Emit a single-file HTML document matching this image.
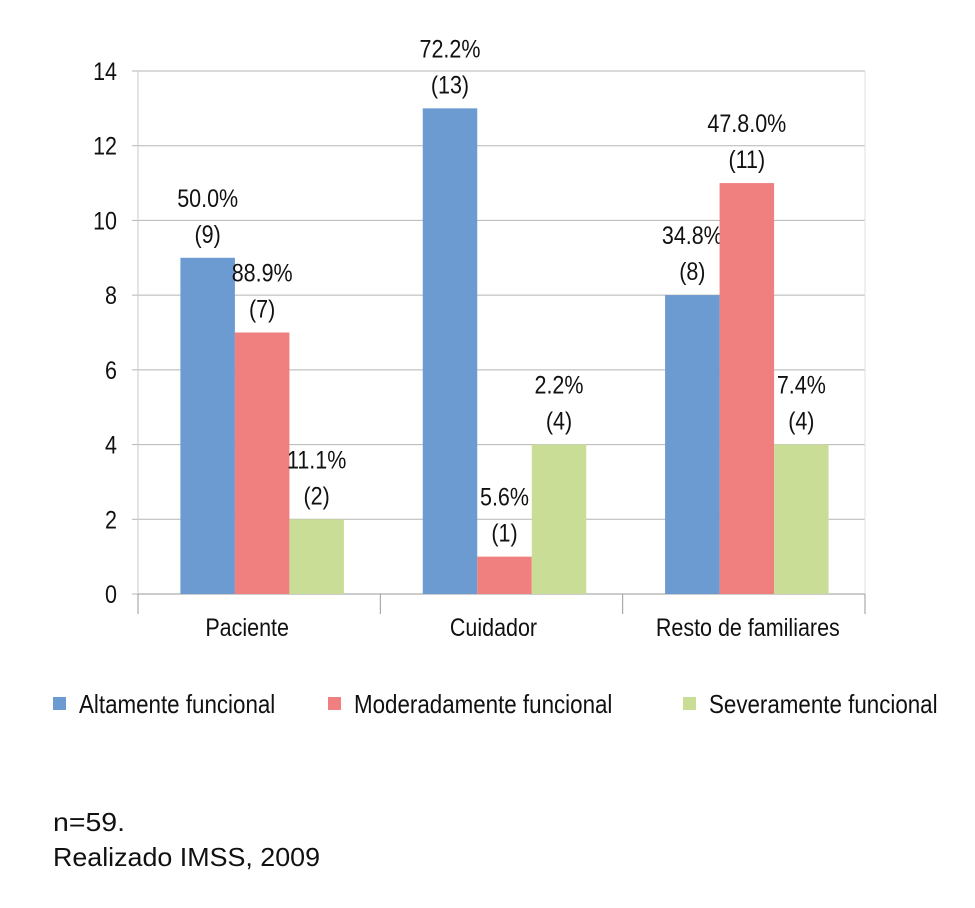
<!DOCTYPE html>
<html><head><meta charset="utf-8"><style>
body{margin:0;background:#fff;}
svg{display:block;font-family:"Liberation Sans Narrow","Liberation Sans",sans-serif;}
</style></head><body>
<svg id="c" width="975" height="908"></svg>
<script>
const categories=["Paciente","Cuidador","Resto de familiares"];
const seriesNames=["Altamente funcional","Moderadamente funcional","Severamente funcional"];
const altamente=[9,13,8];
const moderadamente=[7,1,11];
const severamente=[2,4,4];
const pctAlt=["50.0%","72.2%","34.8%"];
const pctMod=["88.9%","5.6%","47.8.0%"];
const pctSev=["11.1%","2.2%","7.4%"];
const yTicks=[0,2,4,6,8,10,12,14];
const colors=["#6b9bd0","#f07f7f","#c9dd96"];
const svg=document.getElementById('c');const NS="http://www.w3.org/2000/svg";
const K=0.86;
function mk(t,a,p){const e=document.createElementNS(NS,t);for(const k in a)e.setAttribute(k,a[k]);(p||svg).appendChild(e);return e;}
function tx(x,yy,s,anchor,str){const e=mk('text',{x:x,y:yy,'text-anchor':anchor,'font-size':s,fill:'#111',transform:`translate(${x},0) scale(${K},1) translate(${-x},0)`});e.textContent=str;return e;}
const x0=138,x1=865,yb=594,yt=71,ymax=14;
const y=v=>yb-(yb-yt)*v/ymax;
const gw=(x1-x0)/categories.length, bw=54.5;
const bx=(i,s)=>x0+gw*i+gw/2-bw*1.5+s*bw+3;
yTicks.forEach(t=>{
 const g=mk('line',{x1:x0,x2:x1,y1:y(t),y2:y(t),stroke:t===0?'#999':'#b5b5b5','stroke-width':1});
 
 mk('line',{x1:x0-6,x2:x0,y1:y(t),y2:y(t),stroke:'#b5b5b5'});
 const e=tx(117,y(t)+9,25,'end',t);
 
});
mk('line',{x1:x0,x2:x0,y1:yt,y2:yb,stroke:'#c8c8c8'});
mk('line',{x1:x1,x2:x1,y1:yt,y2:yb,stroke:'#e0e0e0'});
for(let i=0;i<=categories.length;i++)mk('line',{x1:x0+gw*i,x2:x0+gw*i,y1:yb,y2:yb+20,stroke:'#999'});
const data=[altamente,moderadamente,severamente],pcts=[pctAlt,pctMod,pctSev];
categories.forEach((c,i)=>{
 data.forEach((d,s)=>{
  const r=mk('rect',{x:bx(i,s),y:y(d[i]),width:bw,height:yb-y(d[i]),fill:colors[s]});
  
  
  const cx=bx(i,s)+bw/2;
  const t1=tx(cx,y(d[i])-51,25,'middle',pcts[s][i]);
  
  const t2=tx(cx,y(d[i])-15,25,'middle','('+d[i]+')');
  
 });
 const ct=tx(x0+gw*i+gw/2-12+(i==2?16:0)+(i==1?4:0),636,25,'middle',c);
 
});
const lx=[53,328,683];
seriesNames.forEach((n,s)=>{
 const r=mk('rect',{x:lx[s],y:697,width:13,height:13,fill:colors[s]});
 
 const t=tx(lx[s]+26,713,26,'start',n);
 
});
const f1=mk('text',{x:53,y:831,'font-size':26,fill:'#111',textLength:72,lengthAdjust:'spacingAndGlyphs'});f1.textContent='n=59.';

const f2=mk('text',{x:53,y:866,'font-size':26,fill:'#111',textLength:267,lengthAdjust:'spacingAndGlyphs'});f2.textContent='Realizado IMSS, 2009';

</script>
</body></html>
